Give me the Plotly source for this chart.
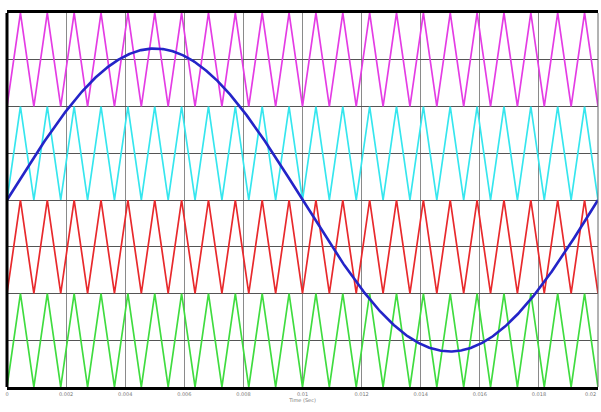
import numpy as np
import plotly.graph_objects as go

# Values
period_s = 0.02            # one fundamental cycle on the x axis
ref_amplitude = 1.62       # peak of the blue reference sine
carrier_cycles = 22        # triangle cycles across the window
carrier_bands = [          # (name, low, high)
    ("Carrier 1", 1.0, 2.0),
    ("Carrier 2", 0.0, 1.0),
    ("Carrier 3", -1.0, 0.0),
    ("Carrier 4", -2.0, -1.0),
]
carrier_colors = ["#e43ce4", "#35e6ee", "#e8292c", "#3fdc3f"]
ref_color = "#2424c8"
x_ticks = [0, 0.002, 0.004, 0.006, 0.008, 0.01, 0.012, 0.014, 0.016, 0.018, 0.02]
x_tick_text = ["0", "0.002", "0.004", "0.006", "0.008", "0.01", "0.012", "0.014", "0.016", "0.018", "0.02"]
y_grid = [-2, -1.5, -1, -0.5, 0, 0.5, 1, 1.5, 2]

tick_font = dict(size=5, color="#777", family="DejaVu Sans")

fig = go.Figure()

# triangle carrier vertices: valleys at k*T, peaks at (k+0.5)*T
Tc = period_s / carrier_cycles
n_vert = 2 * carrier_cycles + 1
t_vert = np.arange(n_vert) * Tc / 2
for (name, lo, hi), col in zip(carrier_bands, carrier_colors):
    y_vert = np.where(np.arange(n_vert) % 2 == 0, lo, hi)
    fig.add_trace(go.Scatter(x=t_vert, y=y_vert, mode="lines", name=name,
                             line=dict(color=col, width=1.7)))

t = np.linspace(0, period_s, 600)
fig.add_trace(go.Scatter(x=t, y=ref_amplitude * np.sin(2 * np.pi * t / period_s),
                         mode="lines", name="Reference",
                         line=dict(color=ref_color, width=2.6)))

# frame: thick left edge, thin right edge
fig.add_shape(type="line", xref="paper", yref="paper", x0=0, x1=0, y0=0, y1=1,
              line=dict(color="black", width=3))
fig.add_shape(type="line", xref="paper", yref="paper", x0=1, x1=1, y0=0, y1=1,
              line=dict(color="#666666", width=1))

# last tick label at the right edge (plotly drops it at the range end)
fig.add_annotation(x=x_ticks[-1], xref="x", y=0, yref="paper", text=x_tick_text[-1],
                   showarrow=False, xanchor="right", yanchor="top", yshift=-2,
                   font=tick_font)

fig.update_layout(
    width=601, height=412,
    margin=dict(l=7, r=3, t=13, b=25),
    paper_bgcolor="white", plot_bgcolor="white",
    showlegend=False,
    xaxis=dict(range=[0, period_s], tickvals=x_ticks[:-1], ticktext=x_tick_text[:-1],
               showgrid=True, gridcolor="#8a8a8a", gridwidth=1,
               showline=True, linecolor="black", linewidth=3, mirror=True,
               ticks="", tickfont=tick_font,
               title=dict(text="Time (Sec)", font=tick_font, standoff=2),
               zeroline=False),
    yaxis=dict(range=[-2, 2], tickvals=y_grid, showticklabels=False,
               showgrid=True, gridcolor="#555555", gridwidth=1,
               showline=False, ticks="", zeroline=False),
)

fig.write_html("out.html", config={"displayModeBar": False},
               post_script="document.body.style.margin='0';document.body.style.overflow='hidden';")
